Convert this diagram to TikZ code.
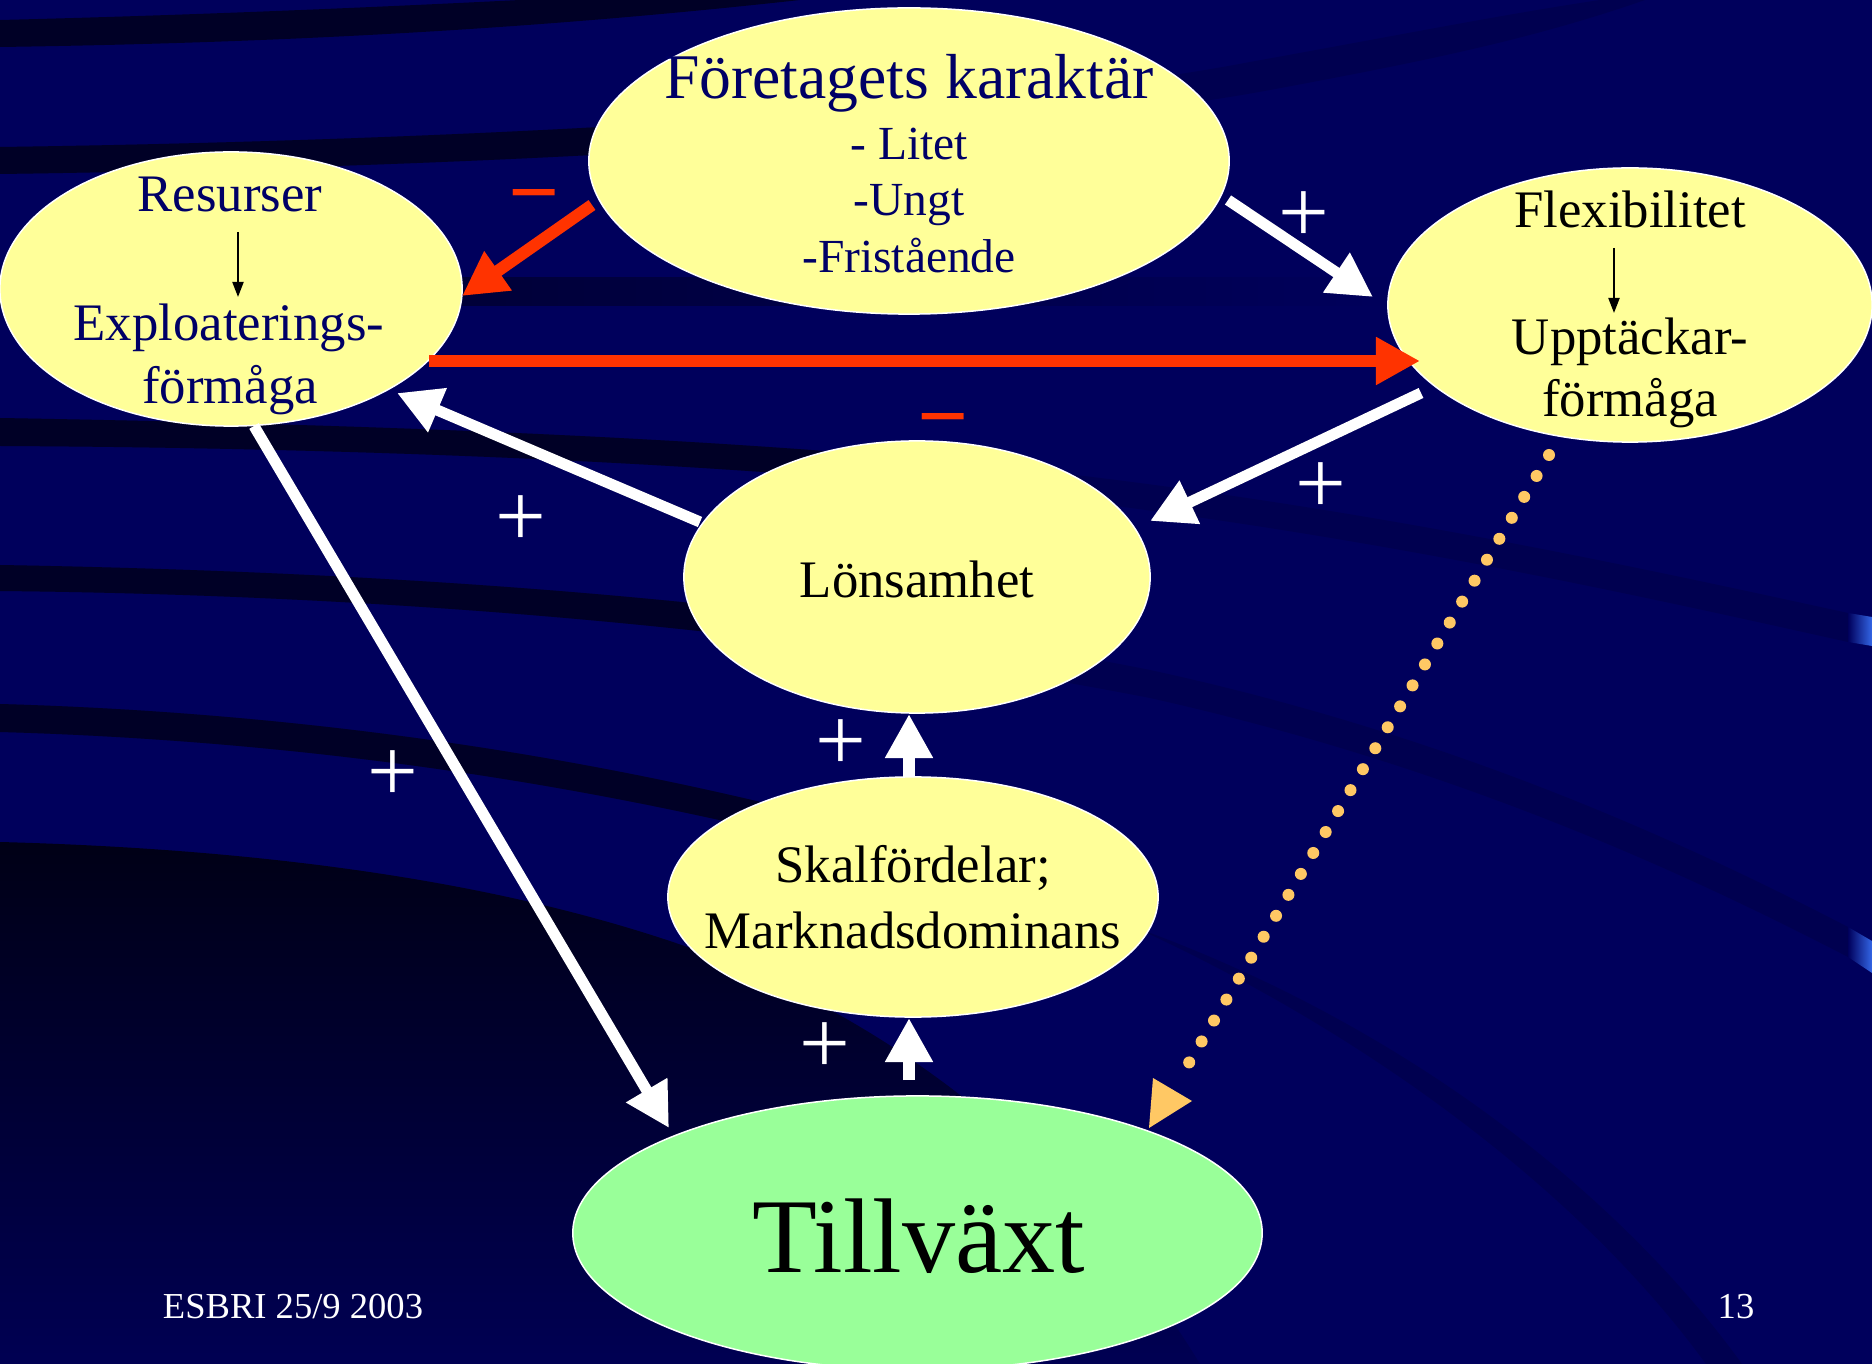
\documentclass[tikz,border=0pt]{standalone}
\usepackage{fontspec}
\setmainfont{Liberation Serif}
\usetikzlibrary{shapes.geometric,arrows.meta,calc}
\definecolor{bgnavy}{RGB}{0,0,92}
\definecolor{stripe}{RGB}{0,0,38}
\definecolor{faint}{RGB}{0,0,80}
\definecolor{deepdark}{RGB}{0,0,22}
\definecolor{nodeyellow}{RGB}{255,255,153}
\definecolor{nodegreen}{RGB}{153,255,153}
\definecolor{txtnavy}{RGB}{0,0,102}
\definecolor{arrowred}{RGB}{255,51,0}
\definecolor{dotorange}{RGB}{255,200,100}
\definecolor{edgeblue}{RGB}{51,102,230}
\newcommand\myfs[1]{\fontsize{#1}{#1}\selectfont}
\def\bandB{(0,147) .. controls (500,140) and (1000,110) .. (1250,62) .. controls (1400,35) and (1500,15) .. (1600,0)
  -- (1645,0) .. controls (1530,40) and (1420,62) .. (1270,90) .. controls (1010,138) and (500,167) .. (0,174) -- cycle}
\def\bandD{(0,418) .. controls (400,425) and (800,440) .. (1100,478) .. controls (1400,515) and (1650,570) .. (1848,613)
  -- (1848,642) .. controls (1650,598) and (1400,542) .. (1100,504) .. controls (800,466) and (400,448) .. (0,446) -- cycle}
\def\bandE{(0,565) .. controls (400,572) and (800,600) .. (1150,670) .. controls (1450,735) and (1680,840) .. (1848,927)
  -- (1848,957) .. controls (1680,870) and (1450,765) .. (1150,698) .. controls (800,630) and (400,595) .. (0,591) -- cycle}
\def\bandF{(0,704) .. controls (350,714) and (650,768) .. (900,838) .. controls (1250,945) and (1550,1150) .. (1706,1364)
  -- (1742,1364) .. controls (1580,1140) and (1270,930) .. (905,866) .. controls (650,796) and (350,742) .. (0,732) -- cycle}
\begin{document}
\begin{tikzpicture}[x=0.01cm,y=-0.01cm,
  bubble/.style={ellipse, draw=white, line width=0.015cm, fill=nodeyellow, inner sep=0pt, outer sep=0pt},
  lbl/.style={anchor=base, inner sep=0pt, outer sep=0pt},
  signlbl/.style={anchor=center, inner sep=0pt, outer sep=0pt, font=\myfs{25.6}},
  whitearrow/.style={draw=white, line width=0.11cm, -{Triangle[length=0.44cm,width=0.45cm]}},
  uparrow/.style={draw=white, line width=0.12cm, -{Triangle[length=0.44cm,width=0.45cm]}},
  redarrow/.style={draw=arrowred, line width=0.12cm, -{Triangle[length=0.44cm,width=0.45cm]}},
  thinarrow/.style={draw=black, line width=0.02cm, -{Triangle[length=0.15cm,width=0.11cm]}},
  dotline/.style={draw=dotorange, line width=0.12cm, line cap=round, dash pattern=on 0pt off 0.2433cm}
]
\useasboundingbox (0,0) rectangle (1872,1364);
\fill[bgnavy] (0,0) rectangle (1872,1364);
% background stripes
\fill[stripe] (0,20) .. controls (200,15) and (380,7) .. (520,0) -- (800,0)
  .. controls (600,22) and (350,42) .. (0,47) -- cycle;
\fill[faint] \bandB;
\fill[faint] \bandD;
\fill[faint] \bandE;
\fill[faint] \bandF;
\begin{scope}
  \clip (0,0) rectangle (900,1364);
  \fill[stripe] \bandB;
  \fill[stripe] \bandD;
  \fill[stripe] \bandE;
  \fill[stripe] \bandF;
\end{scope}
\shade[left color=stripe, middle color=stripe, right color=bgnavy] (0,278) rectangle (1400,306);
\shade[top color=deepdark, middle color=stripe, bottom color=bgnavy!90!black]
  (0,842) .. controls (300,850) and (560,890) .. (760,975) .. controls (950,1060) and (1100,1200) .. (1200,1364)
  -- (0,1364) -- cycle;
\shade[left color=bgnavy, right color=edgeblue] (1848,613) -- (1872,617) -- (1872,646) -- (1848,642) -- cycle;
\shade[left color=bgnavy, right color=edgeblue] (1848,927) -- (1872,941) -- (1872,973) -- (1848,957) -- cycle;

% ellipses
\node[bubble, minimum width=6.4cm, minimum height=3.06cm] (fk) at (909,161) {};
\node[bubble, minimum width=4.62cm, minimum height=2.74cm] (res) at (231,289) {};
\node[bubble, minimum width=4.84cm, minimum height=2.74cm] (flex) at (1630,305) {};
\node[bubble, minimum width=4.66cm, minimum height=2.72cm] (lon) at (917,577) {};
\node[bubble, minimum width=4.90cm, minimum height=2.40cm] (skal) at (913,897) {};
\node[bubble, fill=nodegreen, minimum width=6.89cm, minimum height=2.74cm] (till) at (917.5,1233) {};

% connectors
\draw[redarrow] ($(fk.center)+(-317,44)$) -- ($(res.center)+(231,7)$);
\draw[redarrow] ($(res.center)+(198,72)$) -- ($(flex.center)+(-210,56)$);
\draw[whitearrow] ($(fk.center)+(319,39)$) -- ($(flex.center)+(-257,-8)$);
\draw[whitearrow] ($(flex.center)+(-209,88)$) -- ($(lon.center)+(233,-56)$);
\draw[whitearrow] ($(lon.center)+(-217,-55)$) -- ($(res.center)+(166,104)$);
\draw[whitearrow] ($(res.center)+(23,137)$) -- ($(till.center)+(-248.5,-105)$);
\draw[uparrow] ($(skal.center)+(-4,-120)$) -- ($(lon.center)+(-8,137)$);
\draw[uparrow] ($(till.center)+(-8.5,-153)$) -- ($(skal.center)+(-4,121)$);
\draw[dotline] ($(flex.center)+(-81,150)$) -- ($(till.center)+(259.5,-150)$);
\fill[dotorange] ($(till.center)+(235.5,-155)$) -- ($(till.center)+(274.5,-132)$) -- ($(till.center)+(231.5,-105)$) -- cycle;
\draw[thinarrow] ($(res.center)+(7,-57)$) -- ($(res.center)+(7,8)$);
\draw[thinarrow] ($(flex.center)+(-16,-57)$) -- ($(flex.center)+(-16,8)$);

% texts
\node[lbl, text=txtnavy, font=\myfs{18.1}] (fkt1) at (909,99) {Företagets karaktär};
\node[lbl, text=txtnavy, font=\myfs{13.5}] (fkt2) at (909,160) {- Litet};
\node[lbl, text=txtnavy, font=\myfs{13.5}] (fkt3) at (909,216) {-Ungt};
\node[lbl, text=txtnavy, font=\myfs{13.5}] (fkt4) at (909,273) {-Fristående};
\node[lbl, text=txtnavy, font=\myfs{15}] (rest1) at (230,212) {Resurser};
\node[lbl, text=txtnavy, font=\myfs{15}] (rest2) at (229,341) {Exploaterings-};
\node[lbl, text=txtnavy, font=\myfs{15}] (rest3) at (230,404) {förmåga};
\node[lbl, text=black, font=\myfs{15}] (flext1) at (1630,228) {Flexibilitet};
\node[lbl, text=black, font=\myfs{15}] (flext2) at (1630,355) {Upptäckar-};
\node[lbl, text=black, font=\myfs{15}] (flext3) at (1630,417) {förmåga};
\node[lbl, text=black, font=\myfs{15}] (lont) at (917,597) {Lönsamhet};
\node[lbl, text=black, font=\myfs{15}] (skalt1) at (913,883) {Skalfördelar;};
\node[lbl, text=black, font=\myfs{15}] (skalt2) at (913,948) {Marknadsdominans};
\node[lbl, text=black, font=\myfs{30.2}] (tillt) at (919,1272) {Tillväxt};
\node[lbl, text=white, font=\myfs{10.4}] (foot1) at (293,1318) {ESBRI 25/9 2003};
\node[lbl, text=white, font=\myfs{10.4}] (foot2) at (1736,1318) {13};

% signs
\node[signlbl, text=white] (p1) at (1304,217) {+};
\node[signlbl, text=white] (p2) at (521,521) {+};
\node[signlbl, text=white] (p3) at (1321,488) {+};
\node[signlbl, text=white] (p4) at (393,776) {+};
\node[signlbl, text=white] (p5) at (841,745) {+};
\node[signlbl, text=white] (p6) at (825,1048) {+};
\node[signlbl, text=arrowred] (m1) at (534,197) {\vphantom{+}\textbf{−}};
\node[signlbl, text=arrowred] (m2) at (943,421) {\vphantom{+}\textbf{−}};
\end{tikzpicture}
\end{document}
